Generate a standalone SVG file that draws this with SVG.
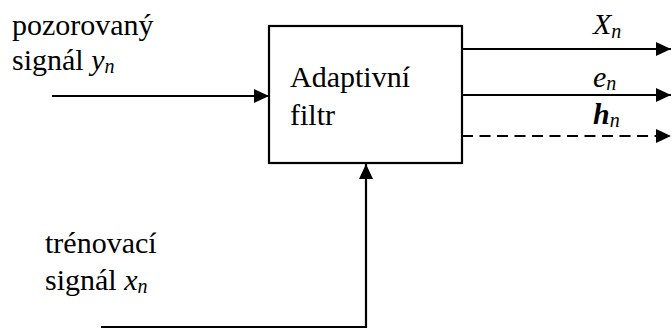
<svg xmlns="http://www.w3.org/2000/svg" width="671" height="329" viewBox="0 0 671 329">
<defs>
<marker id="ah" viewBox="0 0 15 14" refX="15" refY="7" markerWidth="15" markerHeight="14" markerUnits="userSpaceOnUse" orient="auto">
<path d="M0,0 L15,7 L0,14 Z" fill="#000"/>
</marker>
</defs>
<rect width="671" height="329" fill="#fff"/>
<g id="filter">
<rect x="269" y="26" width="193" height="137" fill="#fff" stroke="#000" stroke-width="2.2"/>
<text x="290" y="87" font-family="Times New Roman" font-size="30" style="font-family:'Times New Roman','Liberation Serif',serif">Adaptivní</text>
<text x="290" y="125" font-family="Times New Roman" font-size="30" style="font-family:'Times New Roman','Liberation Serif',serif">filtr</text>
</g>
<g id="input-label">
<text x="12" y="35" font-family="Times New Roman" font-size="30" style="font-family:'Times New Roman','Liberation Serif',serif">pozorovaný</text>
<text x="12" y="70" font-family="Times New Roman" font-size="30" style="font-family:'Times New Roman','Liberation Serif',serif">signál <tspan font-style="italic">y</tspan><tspan font-style="italic" font-size="20" dy="3">n</tspan></text>
</g>
<g id="training-label">
<text x="45" y="253" font-family="Times New Roman" font-size="30" style="font-family:'Times New Roman','Liberation Serif',serif">trénovací</text>
<text x="45" y="290" font-family="Times New Roman" font-size="30" style="font-family:'Times New Roman','Liberation Serif',serif">signál <tspan font-style="italic">x</tspan><tspan font-style="italic" font-size="20" dy="3">n</tspan></text>
</g>
<g id="output-labels">
<text x="593" y="34" font-family="Times New Roman" font-size="30" font-style="italic" style="font-family:'Times New Roman','Liberation Serif',serif">X<tspan font-size="20" dy="4">n</tspan></text>
<text x="593" y="87" font-family="Times New Roman" font-size="30" font-style="italic" style="font-family:'Times New Roman','Liberation Serif',serif">e<tspan font-size="20" dy="3">n</tspan></text>
<text x="593" y="124" font-family="Times New Roman" font-size="30" font-style="italic" font-weight="bold" style="font-family:'Times New Roman','Liberation Serif',serif">h<tspan font-size="20" font-weight="normal" dy="3">n</tspan></text>
</g>
<g id="connectors" stroke="#000" stroke-width="2.2" fill="none">
<line x1="52" y1="96" x2="269" y2="96" marker-end="url(#ah)"/>
<polyline points="101,327 366,327 366,164" marker-end="url(#ah)"/>
<line x1="462" y1="49" x2="671" y2="49" marker-end="url(#ah)"/>
<line x1="462" y1="95" x2="671" y2="95" marker-end="url(#ah)"/>
<line x1="462" y1="136" x2="671" y2="136" stroke-dasharray="11,6.5" marker-end="url(#ah)"/>
</g>
</svg>
